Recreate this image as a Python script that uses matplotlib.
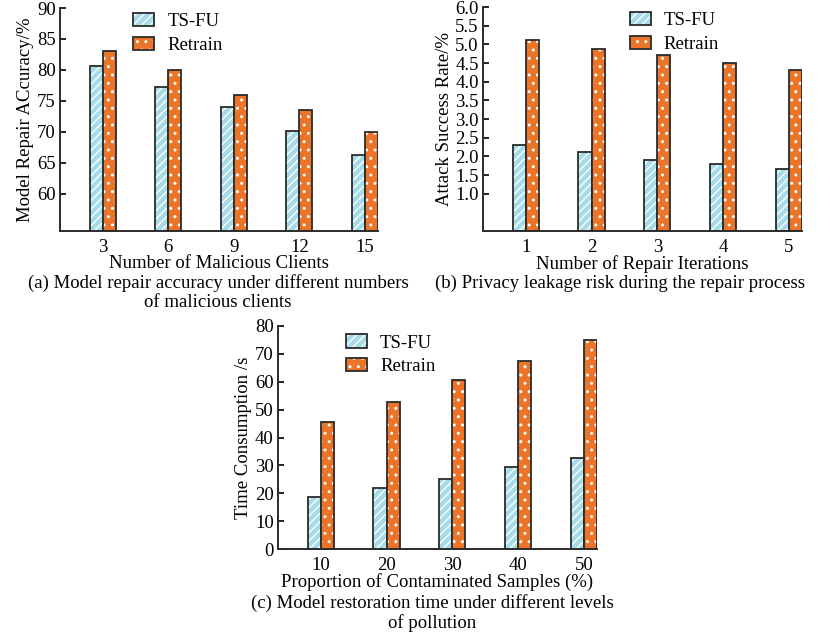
import matplotlib
matplotlib.use("Agg")
import matplotlib.pyplot as plt
import numpy as np
from matplotlib.patches import Patch

plt.rcParams['font.family'] = ['Liberation Serif', 'DejaVu Serif']
plt.rcParams['hatch.linewidth'] = 1.0

# data
clients = ['3', '6', '9', '12', '15']
acc_tsfu = [80.7, 77.2, 74.0, 70.1, 66.2]
acc_retrain = [83.1, 80.0, 76.0, 73.5, 70.0]

iters = ['1', '2', '3', '4', '5']
asr_tsfu = [2.31, 2.12, 1.89, 1.79, 1.65]
asr_retrain = [5.11, 4.87, 4.71, 4.49, 4.30]

pollution = ['10', '20', '30', '40', '50']
time_tsfu = [18.5, 21.8, 25.0, 29.3, 32.8]
time_retrain = [45.5, 52.8, 60.5, 67.4, 74.8]

blue = '#a6dce8'
orange = '#ec7428'
edge = '#2b2b2b'
fs = 13.5
W, H = 830, 636


def px_axes(fig, left, top, right, bottom):
    return fig.add_axes([left / W, (H - bottom) / H, (right - left) / W, (bottom - top) / H])


def hatched_bars(ax, x, vals, color, hatch):
    ax.bar(x, vals, width=0.2, color=color, edgecolor='white', hatch=hatch, linewidth=0, align='edge')
    ax.bar(x, vals, width=0.2, fill=False, edgecolor=edge, linewidth=1.3, align='edge')


def draw_panel(ax, cats, a, b, ylim, yticks, yticklabels, xlabel, ylabel, leg_anchor):
    x = np.arange(len(cats))
    hatched_bars(ax, x - 0.2, a, blue, '////')
    hatched_bars(ax, x, b, orange, '..')
    ax.set_xlim(-0.65, 4.2)
    ax.set_ylim(*ylim)
    ax.set_yticks(yticks)
    ax.set_yticklabels(yticklabels, fontsize=fs)
    ax.set_xticks(x)
    ax.set_xticklabels(cats, fontsize=fs)
    ax.tick_params(axis='x', length=0, pad=6)
    ax.tick_params(axis='y', direction='in', length=4, width=1.2, pad=3)
    for s in ['top', 'right']:
        ax.spines[s].set_visible(False)
    for s in ['left', 'bottom']:
        ax.spines[s].set_linewidth(1.4)
        ax.spines[s].set_color(edge)
    ax.set_xlabel(xlabel, fontsize=fs, labelpad=-1)
    ax.set_ylabel(ylabel, fontsize=fs, labelpad=2)
    h1 = (Patch(facecolor=blue, edgecolor='white', hatch='////', linewidth=0),
          Patch(fill=False, edgecolor=edge, linewidth=1.3))
    h2 = (Patch(facecolor=orange, edgecolor='white', hatch='..', linewidth=0),
          Patch(fill=False, edgecolor=edge, linewidth=1.3))
    ax.legend([h1, h2], ['TS-FU', 'Retrain'], loc='upper left', bbox_to_anchor=leg_anchor,
              frameon=False, fontsize=fs, handlelength=1.12, handleheight=0.7,
              handletextpad=0.7, labelspacing=0.35, borderaxespad=0, borderpad=0)


fig = plt.figure(figsize=(8.3, 6.36), dpi=100)

ax1 = px_axes(fig, 60, 8, 378, 231)
draw_panel(ax1, clients, acc_tsfu, acc_retrain, (54, 90),
           [60, 65, 70, 75, 80, 85, 90], ['60', '65', '70', '75', '80', '85', '90'],
           'Number of Malicious Clients', 'Model Repair ACcuracy/%', (0.23, 0.978))

ax2 = px_axes(fig, 483, 7, 802, 231)
draw_panel(ax2, iters, asr_tsfu, asr_retrain, (0, 6),
           [1, 1.5, 2, 2.5, 3, 3.5, 4, 4.5, 5, 5.5, 6],
           ['1.0', '1.5', '2.0', '2.5', '3.0', '3.5', '4.0', '4.5', '5.0', '5.5', '6.0'],
           'Number of Repair Iterations', 'Attack Success Rate/%', (0.46, 0.978))

ax3 = px_axes(fig, 278, 326, 597, 549)
draw_panel(ax3, pollution, time_tsfu, time_retrain, (0, 80),
           list(range(0, 81, 10)), [str(v) for v in range(0, 81, 10)],
           'Proportion of Contaminated Samples (%)', 'Time Consumption /s', (0.213, 0.962))

captions = [
    (218, 283, '(a) Model repair accuracy under different numbers'),
    (218, 303, 'of malicious clients'),
    (620, 283, '(b) Privacy leakage risk during the repair process'),
    (432, 603, '(c) Model restoration time under different levels'),
    (432, 623, 'of pollution'),
]
for cx, cy, txt in captions:
    fig.text(cx / W, 1 - cy / H, txt, ha='center', va='center', fontsize=fs)

fig.savefig('out.png', dpi=100)
